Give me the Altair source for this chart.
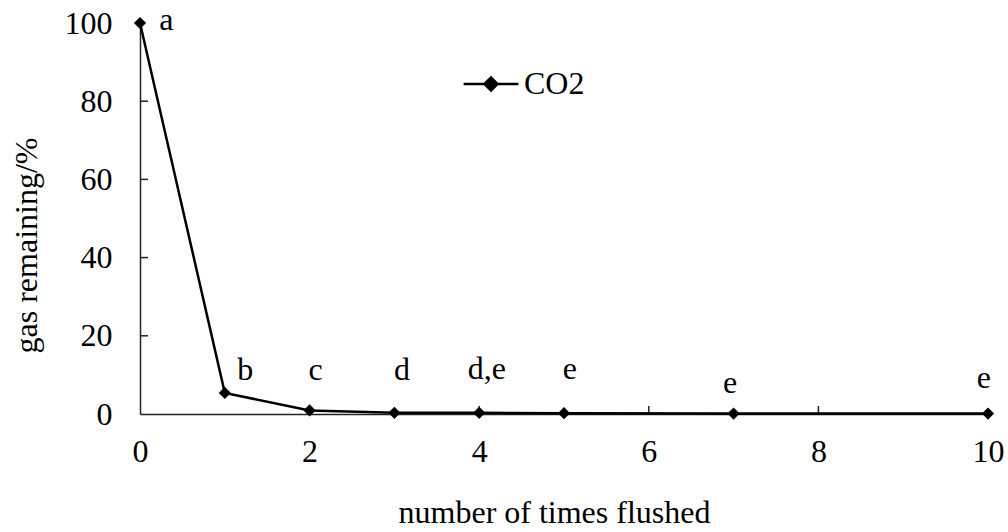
import altair as alt
import pandas as pd

# data
flushes = [0, 1, 2, 3, 4, 5, 7, 10]
remaining = [100, 5.4, 0.9, 0.3, 0.3, 0.2, 0.1, 0.1]
letters = ["a", "b", "c", "d", "d,e", "e", "e", "e"]
label_x = [0.31, 1.24, 2.07, 3.09, 4.09, 5.07, 6.96, 9.95]
label_y = [98.2, 8.7, 8.7, 8.7, 8.9, 8.9, 5.4, 6.6]
x_ticks = [0, 2, 4, 6, 8, 10]
y_ticks = [0, 20, 40, 60, 80, 100]
series = "CO2"

FONT = "Liberation Serif"
W, H = 848, 391

df = pd.DataFrame({"x": flushes, "y": remaining, "s": [series] * len(flushes)})
lab = pd.DataFrame({"x": label_x, "y": label_y, "t": letters})
xt = pd.DataFrame({"v": [t for t in x_ticks if t not in (0, 10)]})
yt = pd.DataFrame({"v": [t for t in y_ticks if t not in (0, 100)]})

xscale = alt.Scale(domain=[0, 10], nice=False, zero=False)
yscale = alt.Scale(domain=[0, 100], nice=False)

xaxis = alt.Axis(values=x_ticks, format="d", ticks=False, grid=False, domainColor="#222",
                 domainWidth=1.5, labelFont=FONT, labelFontSize=32, labelColor="black",
                 labelFlush=False, labelOverlap=False,
                 labelPadding=22, title="number of times flushed", titleFont=FONT,
                 titleFontSize=32, titleFontWeight="normal", titleColor="black",
                 titleBaseline="alphabetic", titleY=108, titleX=W / 2 - 10)
yaxis = alt.Axis(values=y_ticks, format="d", ticks=False, grid=False, domainColor="#222",
                 domainWidth=1.5, labelFont=FONT, labelFontSize=32, labelColor="black",
                 labelFlush=False, labelOverlap=False,
                 labelPadding=28, title="gas remaining/%", titleFont=FONT,
                 titleFontSize=32, titleFontWeight="normal", titleColor="black",
                 titleBaseline="alphabetic", titleX=-104, titleY=222, titleAngle=-90)

legend_symbol = "M-1,0H1M-0.24,0L0,-0.24L0.24,0L0,0.24Z"

line = alt.Chart(df).mark_line(strokeWidth=2.5, color="black").encode(
    x=alt.X("x:Q", scale=xscale, axis=xaxis),
    y=alt.Y("y:Q", scale=yscale, axis=yaxis),
    color=alt.Color("s:N", scale=alt.Scale(range=["black"]),
                    legend=alt.Legend(title=None, orient="none", legendX=322, legendY=32,
                                      symbolType=legend_symbol, symbolSize=3000,
                                      symbolStrokeWidth=2.5, symbolFillColor="black",
                                      symbolStrokeColor="black", labelFont=FONT,
                                      labelFontSize=32, labelColor="black",
                                      labelOffset=4)),
)

pts = alt.Chart(df).mark_point(shape="diamond", filled=True, size=150, color="black",
                               opacity=1).encode(x=alt.X("x:Q", scale=xscale),
                                                 y=alt.Y("y:Q", scale=yscale))

texts = alt.Chart(lab).mark_text(font=FONT, fontSize=32, color="black",
                                 baseline="alphabetic", align="center").encode(
    x=alt.X("x:Q", scale=xscale), y=alt.Y("y:Q", scale=yscale), text="t:N")

xtick = alt.Chart(xt).mark_rule(color="#222", strokeWidth=1.5).encode(
    x=alt.X("v:Q", scale=xscale), y=alt.value(H), y2=alt.value(H - 8))
ytick = alt.Chart(yt).mark_rule(color="#222", strokeWidth=1.5).encode(
    y=alt.Y("v:Q", scale=yscale), x=alt.value(0), x2=alt.value(8))

chart = alt.layer(xtick, ytick, line, pts, texts).properties(
    width=W, height=H,
    autosize=alt.AutoSizeParams(type="none"),
    padding={"left": 140, "top": 23, "right": 20, "bottom": 118},
    background="white",
).configure_view(stroke=None)

chart.save("out.html", embed_options={"renderer": "svg", "actions": False})
